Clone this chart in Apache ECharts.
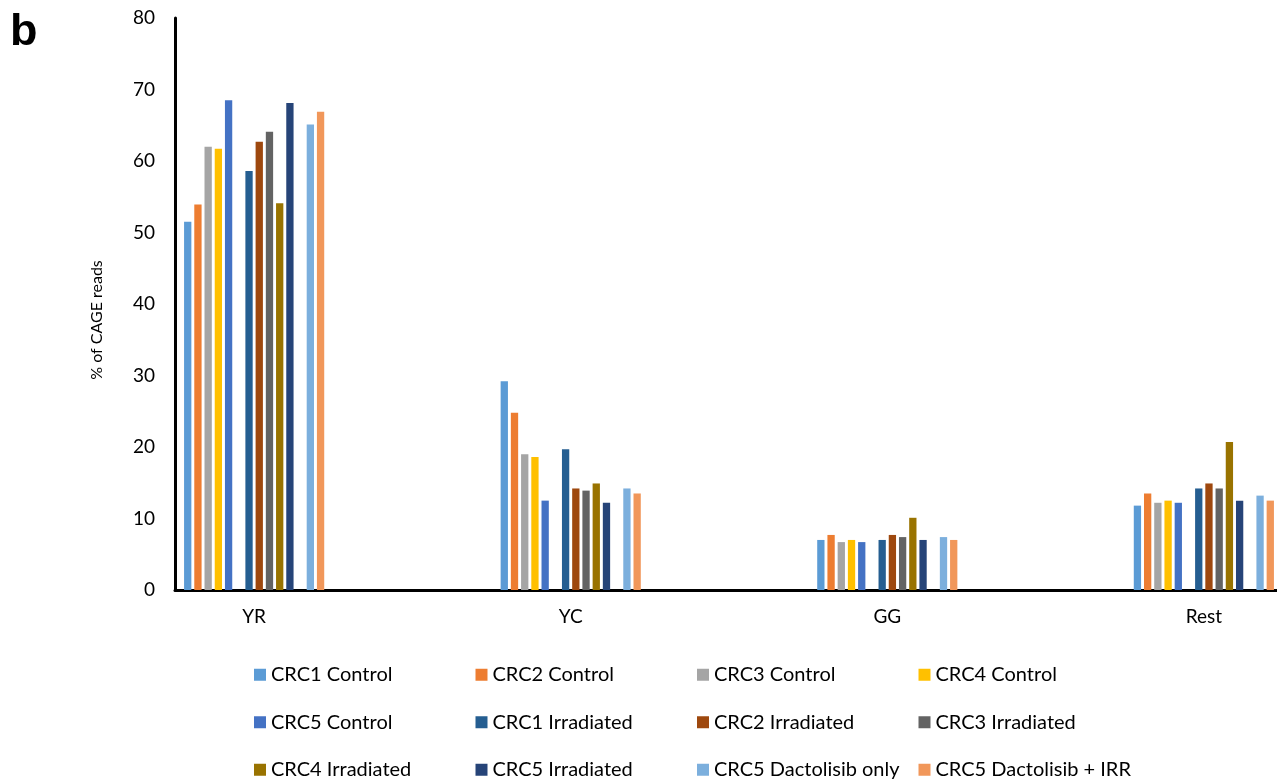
<!DOCTYPE html>
<html>
<head>
<meta charset="utf-8">
<script src="https://cdn.jsdelivr.net/npm/echarts@6/dist/echarts.min.js"></script>
<style>
  html, body { margin: 0; padding: 0; background: #fff; }
  #chart { width: 1277px; height: 781px; }
</style>
</head>
<body>
<div id="chart"></div>
<script>
// Dinucleotide classes at CAGE-defined TSSs
const categories = ['YR', 'YC', 'GG', 'Rest'];
const yTicks = [0, 10, 20, 30, 40, 50, 60, 70, 80];

// % of CAGE reads per class, one array per sample
const crc1Control = [51.5, 29.2, 7.0, 11.8];
const crc2Control = [53.9, 24.8, 7.7, 13.5];
const crc3Control = [62.0, 19.0, 6.7, 12.2];
const crc4Control = [61.7, 18.6, 7.0, 12.5];
const crc5Control = [68.5, 12.5, 6.7, 12.2];
const crc1Irradiated = [58.6, 19.7, 7.0, 14.2];
const crc2Irradiated = [62.7, 14.2, 7.7, 14.9];
const crc3Irradiated = [64.1, 13.9, 7.4, 14.2];
const crc4Irradiated = [54.1, 14.9, 10.1, 20.7];
const crc5Irradiated = [68.1, 12.2, 7.0, 12.5];
const crc5DactolisibOnly = [65.1, 14.2, 7.4, 13.2];
const crc5DactolisibIrr = [66.9, 13.5, 7.0, 12.5];

const samples = [
  { name: 'CRC1 Control', values: crc1Control, color: '#5B9BD5' },
  { name: 'CRC2 Control', values: crc2Control, color: '#ED7D31' },
  { name: 'CRC3 Control', values: crc3Control, color: '#A5A5A5' },
  { name: 'CRC4 Control', values: crc4Control, color: '#FFC000' },
  { name: 'CRC5 Control', values: crc5Control, color: '#4472C4' },
  null, // blank column between sample blocks
  { name: 'CRC1 Irradiated', values: crc1Irradiated, color: '#255E91' },
  { name: 'CRC2 Irradiated', values: crc2Irradiated, color: '#9E480E' },
  { name: 'CRC3 Irradiated', values: crc3Irradiated, color: '#636363' },
  { name: 'CRC4 Irradiated', values: crc4Irradiated, color: '#997300' },
  { name: 'CRC5 Irradiated', values: crc5Irradiated, color: '#264478' },
  null,
  { name: 'CRC5 Dactolisib only', values: crc5DactolisibOnly, color: '#7CAFDD' },
  { name: 'CRC5 Dactolisib + IRR', values: crc5DactolisibIrr, color: '#F1975A' }
];

const FONT = 'Lato, "Liberation Sans", sans-serif';

let blankCount = 0;
const series = samples.map(function (s) {
  if (!s) {
    blankCount += 1;
    return { type: 'bar', name: 'blank' + blankCount, data: [], barWidth: 7.3, barGap: '40%' };
  }
  return {
    type: 'bar',
    name: s.name,
    barWidth: 7.3,
    barGap: '40%',
    itemStyle: { color: s.color },
    data: s.values.map(function (v, i) { return [i, v]; })
  };
});

const chart = echarts.init(document.getElementById('chart'), null, { renderer: 'canvas' });
chart.setOption({
  animation: false,
  backgroundColor: '#ffffff',
  grid: { left: 175, top: 18, height: 572, width: 1108, containLabel: false, outerBoundsMode: 'none' },
  xAxis: {
    type: 'value',
    min: -0.25,
    max: 3.25,
    interval: 0.25,
    splitLine: { show: false },
    axisTick: { show: false },
    axisLine: { show: true, lineStyle: { color: '#000', width: 3 } },
    axisLabel: {
      margin: 17,
      color: '#000',
      fontFamily: FONT,
      fontSize: 19,
      showMinLabel: true,
      showMaxLabel: true,
      formatter: function (v) {
        return Number.isInteger(v) && categories[v] ? categories[v] : '';
      }
    }
  },
  yAxis: {
    type: 'value',
    min: yTicks[0],
    max: yTicks[yTicks.length - 1],
    interval: 10,
    splitLine: { show: false },
    axisTick: { show: false },
    axisLine: { show: true, onZero: false, lineStyle: { color: '#000', width: 3 } },
    axisLabel: { margin: 20, color: '#000', fontFamily: FONT, fontSize: 19 }
  },
  legend: {
    left: 254,
    top: 651,
    width: 890,
    padding: 0,
    itemGap: 0,
    itemWidth: 12,
    itemHeight: 12,
    icon: 'rect',
    data: samples.filter(Boolean).map(function (s) { return s.name; }),
    textStyle: { color: '#000', fontFamily: FONT, fontSize: 20, width: 204.5, lineHeight: 47.5 }
  },
  graphic: [
    {
      type: 'text',
      left: 10,
      top: 10,
      style: { text: 'b', font: 'bold 45px "Liberation Sans", sans-serif', fill: '#000' }
    },
    {
      type: 'text',
      x: 97,
      y: 320,
      rotation: Math.PI / 2,
      style: {
        text: '% of CAGE reads',
        font: '16px ' + FONT,
        fill: '#000',
        textAlign: 'center',
        textVerticalAlign: 'middle'
      }
    }
  ],
  series: series
});
</script>
</body>
</html>
